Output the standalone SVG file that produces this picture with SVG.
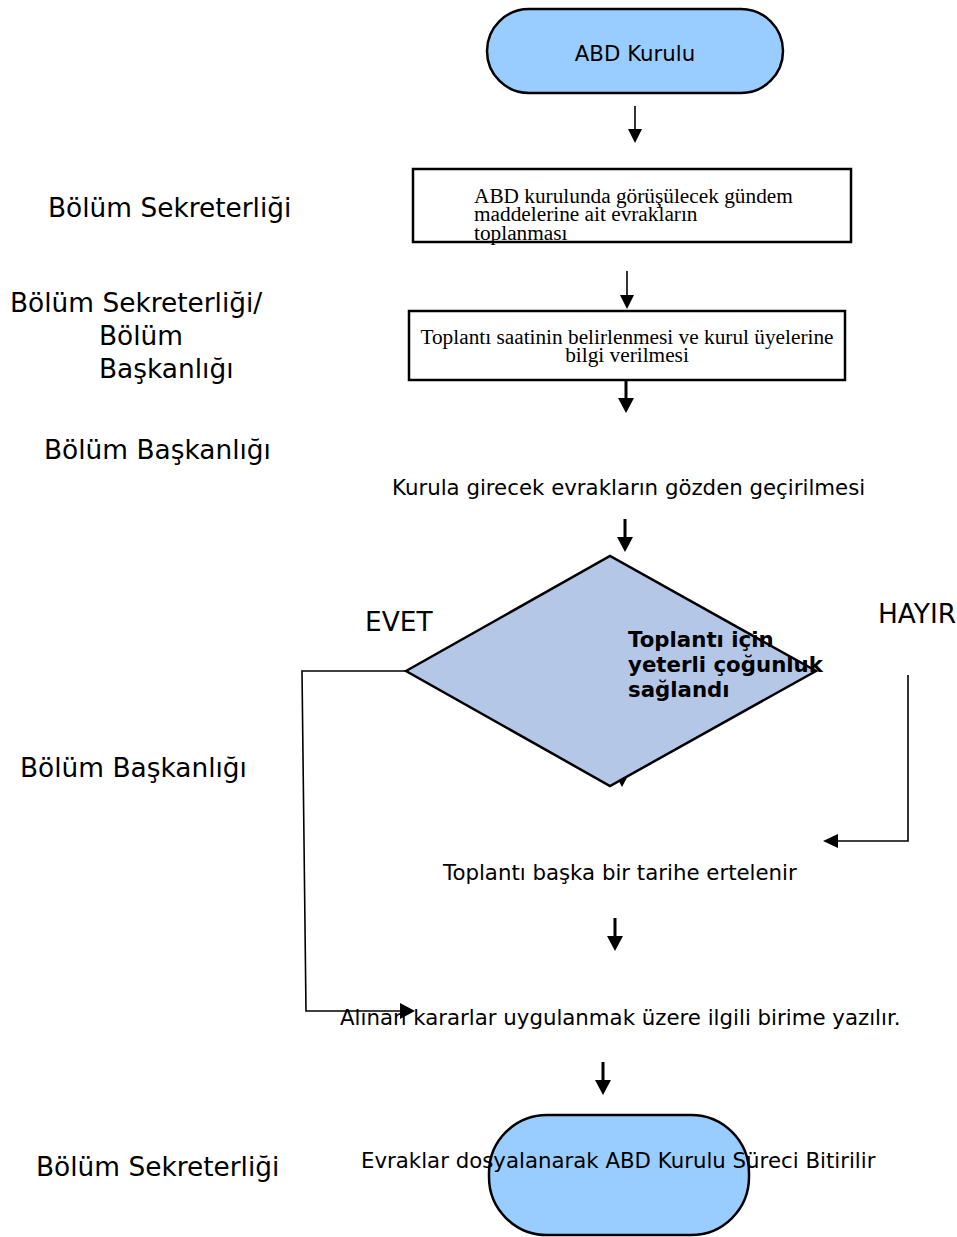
<svg xmlns="http://www.w3.org/2000/svg" width="957" height="1237" viewBox="0 0 957 1237">
<defs>
<style>
.lbl{font-family:"DejaVu Sans",sans-serif;font-size:26.4px;fill:#000}
.t{font-family:"DejaVu Sans",sans-serif;font-size:21.3px;fill:#000}
.s{font-family:"Liberation Serif",serif;font-size:21.3px;fill:#000}
.b{font-family:"DejaVu Sans",sans-serif;font-size:21.3px;font-weight:bold;fill:#000}
.term{fill:#99ccff;stroke:#000;stroke-width:2.5}
.box{fill:#fff;stroke:#000;stroke-width:2.5}
.thin{stroke:#000;stroke-width:1.6;fill:none}
.thick{stroke:#000;stroke-width:3;fill:none}
.head{fill:#000}
</style>
</defs>
<rect width="957" height="1237" fill="#fff"/>
<g id="lane-labels">
<text class="lbl" x="48" y="217">Bölüm Sekreterliği</text>
<text class="lbl" x="10" y="312">Bölüm Sekreterliği/</text>
<text class="lbl" x="99" y="345">Bölüm</text>
<text class="lbl" x="99" y="378">Başkanlığı</text>
<text class="lbl" x="44" y="459">Bölüm Başkanlığı</text>
<text class="lbl" x="20" y="777">Bölüm Başkanlığı</text>
<text class="lbl" x="36" y="1176">Bölüm Sekreterliği</text>
</g>
<g id="connectors">
<line class="thin" x1="635" y1="106" x2="635" y2="130"/>
<polygon class="head" points="628,129 642,129 635,143"/>
<line class="thin" x1="627" y1="271" x2="627" y2="296"/>
<polygon class="head" points="620,295 634,295 627,309"/>
<line class="thick" x1="626" y1="381" x2="626" y2="399"/>
<polygon class="head" points="618,398 634,398 626,413"/>
<line class="thick" x1="625" y1="519" x2="625" y2="538"/>
<polygon class="head" points="617,537 633,537 625,552"/>
<line class="thick" x1="622" y1="750" x2="622" y2="774"/>
<polygon class="head" points="614,772 630,772 622,787"/>
<polyline class="thin" points="406,671 302,671 306,1011 402,1011"/>
<polygon class="head" points="400,1003 415,1011 400,1019"/>
<polyline class="thin" points="908,675 908,841 836,841"/>
<polygon class="head" points="838,834 838,848 823,841"/>
<line class="thick" x1="615" y1="918" x2="615" y2="937"/>
<polygon class="head" points="607,936 623,936 615,951"/>
<line class="thick" x1="603" y1="1062" x2="603" y2="1081"/>
<polygon class="head" points="595,1080 611,1080 603,1095"/>
</g>
<g id="start">
<rect class="term" x="487" y="9" width="296" height="84" rx="42" ry="42"/>
<text class="t" x="635" y="61" text-anchor="middle">ABD Kurulu</text>
</g>
<g id="collect">
<rect class="box" x="413" y="169" width="438" height="73"/>
<text class="s" x="474" y="203">ABD kurulunda görüşülecek gündem</text>
<text class="s" x="474" y="221">maddelerine ait evrakların</text>
<text class="s" x="474" y="240">toplanması</text>
</g>
<g id="schedule">
<rect class="box" x="409" y="311" width="436" height="69"/>
<text class="s" x="627" y="344" text-anchor="middle">Toplantı saatinin belirlenmesi ve kurul üyelerine</text>
<text class="s" x="627" y="362" text-anchor="middle">bilgi verilmesi</text>
</g>
<g id="review">
<text class="t" x="392" y="495">Kurula girecek evrakların gözden geçirilmesi</text>
</g>
<g id="decision">
<polygon points="406,671 610,556 816,671 610,786" fill="#b4c7e7" stroke="#000" stroke-width="2.5"/>
<text class="b" x="628" y="647">Toplantı için</text>
<text class="b" x="628" y="672">yeterli çoğunluk</text>
<text class="b" x="628" y="697">sağlandı</text>
</g>
<g id="edge-labels">
<text class="lbl" x="365" y="631">EVET</text>
<text class="lbl" x="878" y="623">HAYIR</text>
</g>
<g id="postpone">
<text class="t" x="443" y="880">Toplantı başka bir tarihe ertelenir</text>
</g>
<g id="apply">
<text class="t" x="340" y="1025">Alınan kararlar uygulanmak üzere ilgili birime yazılır.</text>
</g>
<g id="end">
<rect class="term" x="489" y="1115" width="260" height="120" rx="58" ry="58"/>
<text class="t" x="361" y="1168">Evraklar dosyalanarak ABD Kurulu Süreci Bitirilir</text>
</g>
</svg>
